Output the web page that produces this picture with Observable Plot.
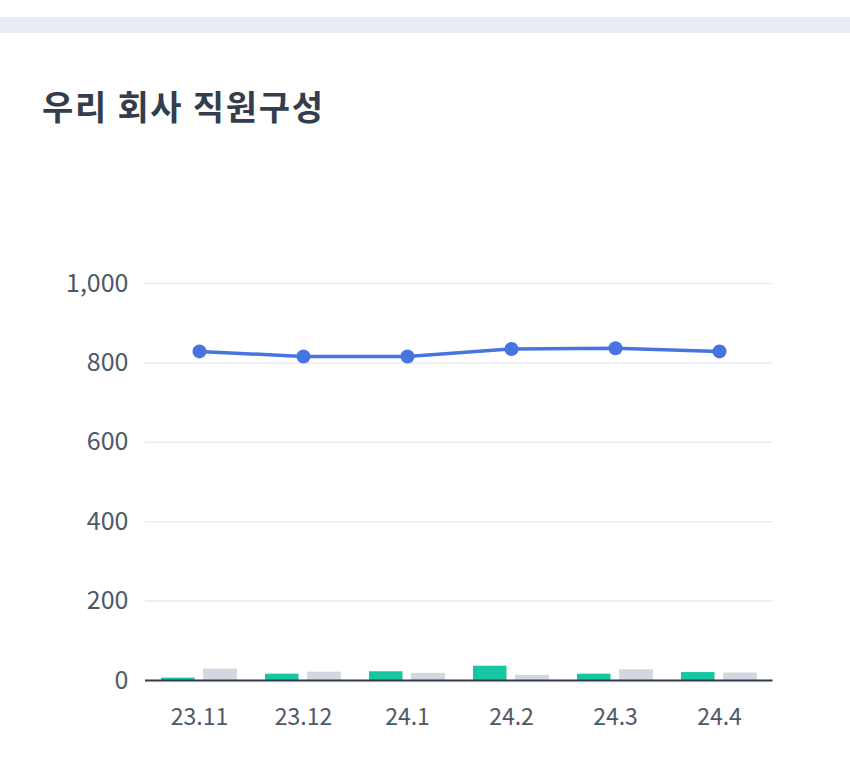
<!DOCTYPE html>
<html>
<head>
<meta charset="utf-8">
<script src="https://cdn.jsdelivr.net/npm/d3@7"></script>
<script src="https://cdn.jsdelivr.net/npm/@observablehq/plot@0.6"></script>
<style>
  html, body { margin: 0; padding: 0; background: #ffffff; width: 850px; height: 764px; overflow: hidden; }
  body { position: relative; font-family: "Noto Sans CJK KR", "Noto Sans", sans-serif; }
  #band { position: absolute; left: 0; top: 17px; width: 850px; height: 16px; background: #e9ecf3; }
  #title { position: absolute; left: 42px; top: 89px; font-size: 34px; font-weight: 700; line-height: 1; color: #333d4b; letter-spacing: 1.7px; white-space: nowrap; }
  #chart { position: absolute; left: 0; top: 250px; }
</style>
</head>
<body>
<div id="band"></div>
<div id="title">우리 회사 직원구성</div>
<div id="chart"></div>
<script>
const months = ["23.11", "23.12", "24.1", "24.2", "24.3", "24.4"];
const totals = [829, 816, 816, 835, 837, 829];
const joined = [6, 16, 22, 36, 16, 20];
const left = [29, 21, 18, 13, 27, 19];
const yTicks = [0, 200, 400, 600, 800, 1000];

const data = months.map((m, i) => ({month: m, total: totals[i], joined: joined[i], left: left[i]}));

const blue = "#4674e0";
const green = "#16c79f";
const gray = "#d3d8e0";

const chart = Plot.plot({
  width: 850,
  height: 500,
  marginTop: 33,
  marginBottom: 70,
  marginLeft: 145,
  marginRight: 77.5,
  style: {fontFamily: "'Noto Sans CJK KR', 'Noto Sans', sans-serif", background: "transparent", color: "#4e5968"},
  x: {domain: months, padding: 0, label: null},
  y: {domain: [0, 1000], label: null},
  marks: [
    Plot.ruleY(yTicks, {stroke: "#e8ebef", strokeWidth: 1.5}),
    Plot.axisY(yTicks, {tickSize: 0, tickPadding: 17, tickFormat: d3.format(","), fontSize: 25, fill: "#4e5968"}),
    Plot.axisX({tickSize: 0, tickPadding: 28, fontSize: 23, fill: "#4e5968"}),
    Plot.barY(data, {x: "month", y: "joined", fill: green, insetLeft: 14, insetRight: 56.5}),
    Plot.barY(data, {x: "month", y: "left", fill: gray, insetLeft: 56, insetRight: 14}),
    Plot.ruleY([0], {stroke: "#333d4b", strokeWidth: 2}),
    Plot.line(data, {x: "month", y: "total", stroke: blue, strokeWidth: 3.5}),
    Plot.dot(data, {x: "month", y: "total", r: 7, fill: blue, stroke: "none"})
  ]
});
document.getElementById("chart").appendChild(chart);
</script>
</body>
</html>
